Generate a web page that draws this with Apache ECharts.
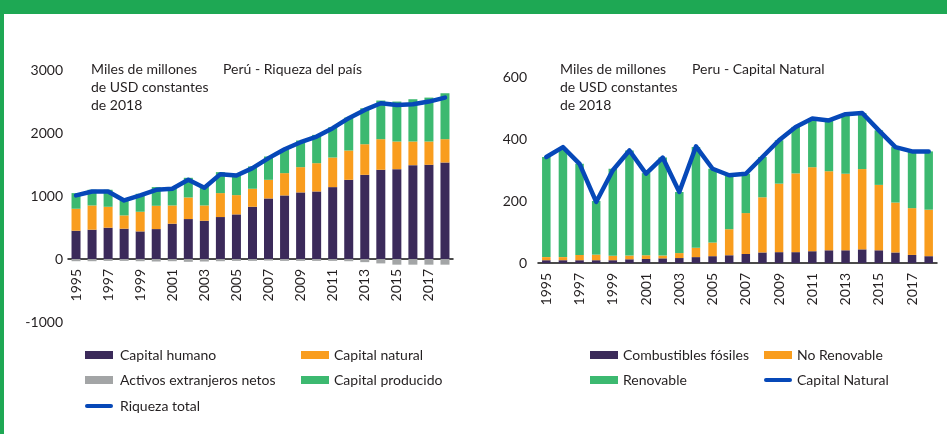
<!DOCTYPE html>
<html>
<head>
<meta charset="utf-8">
<script src="https://cdn.jsdelivr.net/npm/echarts@6/dist/echarts.min.js"></script>
<style>
  html, body { margin: 0; padding: 0; background: #fff; }
  #chart { position: absolute; left: 0; top: 0; width: 947px; height: 434px; }
  .bar-top { position: absolute; left: 0; top: 0; width: 947px; height: 14px; background: #1ea854; }
  .bar-left { position: absolute; left: 0; top: 0; width: 4px; height: 434px; background: #1ea854; }
</style>
</head>
<body>
<div id="chart"></div>
<div class="bar-top"></div>
<div class="bar-left"></div>
<script>
// años
var years = ['1995','1996','1997','1998','1999','2000','2001','2002','2003','2004','2005','2006',
             '2007','2008','2009','2010','2011','2012','2013','2014','2015','2016','2017','2018'];

// Perú - Riqueza del país (miles de millones USD 2018)
var capitalHumano = [449,465,497,481,438,475,560,634,607,666,708,829,961,1009,1057,1072,1141,1257,1336,1416,1426,1490,1495,1532];
var capitalNatural = [349,385,332,211,312,370,290,343,243,380,306,286,296,354,401,449,470,465,486,486,439,375,370,370];
var capitalProducido = [248,249,270,238,285,296,291,312,312,333,322,354,370,370,423,449,481,523,571,613,634,671,697,729];
var activosExtranjeros = [-35,-35,-30,-30,-35,-40,-35,-45,-40,-35,-30,-30,-25,-30,-30,-30,-30,-35,-50,-70,-90,-90,-90,-90];
var riquezaTotal = [1009,1072,1072,930,1009,1099,1115,1257,1130,1347,1326,1442,1601,1743,1854,1944,2076,2235,2367,2472,2446,2456,2499,2562];

// Peru - Capital Natural
var combustibles = [9,9,9,9,9,12,13,15,16,19,22,25,29,34,35,35,38,41,41,44,41,34,26,22];
var noRenovable = [10,10,17,18,14,12,12,9,16,30,44,84,132,178,221,254,271,255,247,259,211,161,151,150];
var renovable = [323,350,294,173,281,339,265,316,197,325,238,177,127,130,140,150,157,164,192,181,176,179,183,188];
var capitalNaturalTotal = [342,374,320,197,299,363,288,340,229,376,304,283,288,342,396,439,466,460,480,484,428,374,360,360];

// ticks
var yTicksLeft = [-1000, 0, 1000, 2000, 3000];
var yTicksRight = [0, 200, 400, 600];

var FONT = 'Lato, "Open Sans", sans-serif';
var TXT = '#231f20';
var PURPLE = '#3b2a5a';
var ORANGE = '#f99d1e';
var GREEN = '#3cb970';
var GRAY = '#a3a5a6';
var BLUE = '#0648b8';

var chart = echarts.init(document.getElementById('chart'), null, { renderer: 'canvas' });

function lineIcon() {
    return 'path://M2,0 L26,0 A2,2 0 0 1 26,4 L2,4 A2,2 0 0 1 2,0 Z';
}

function legendAt(name, left, top, isLine, gap) {
    return {
        data: [name],
        left: left,
        top: top,
        padding: 0,
        itemWidth: 28,
        itemHeight: isLine ? 5 : 8,
        itemGap: 0,
        icon: isLine ? lineIcon() : 'rect',
        selectedMode: false,
        textStyle: { fontFamily: FONT, fontSize: 14, color: TXT, padding: [0, 0, 0, gap || 0] }
    };
}

function titleAt(text, left) {
    return {
        text: text, left: left, top: 60, padding: 0,
        textStyle: { fontFamily: FONT, fontSize: 14, fontWeight: 'normal', color: TXT, lineHeight: 18 }
    };
}

function xAxisFor(gridIndex, showLine, showLabel) {
    return {
        type: 'category',
        gridIndex: gridIndex,
        data: years,
        axisLine: { show: showLine, onZero: true, lineStyle: { color: '#111', width: 1.5 } },
        axisTick: { show: false },
        axisLabel: {
            show: showLabel,
            interval: 1,
            rotate: 90,
            margin: 10,
            fontFamily: FONT,
            fontSize: 14,
            color: TXT
        }
    };
}

function plain(v) { return String(v); }

var option = {
    animation: false,
    title: [
        titleAt('Miles de millones\nde USD constantes\nde 2018', 91),
        titleAt('Perú - Riqueza del país', 223),
        titleAt('Miles de millones\nde USD constantes\nde 2018', 560),
        titleAt('Peru - Capital Natural', 692)
    ],
    legend: [
        legendAt('Capital humano', 85, 348, false, 2),
        legendAt('Capital natural', 301, 348, false, 0),
        legendAt('Activos extranjeros netos', 85, 373, false, 2),
        legendAt('Capital producido', 301, 373, false, 0),
        legendAt('Riqueza total', 85, 399, true, 2),
        legendAt('Combustibles fósiles', 590, 348),
        legendAt('No Renovable', 764, 348),
        legendAt('Renovable', 590, 373),
        legendAt('Capital Natural', 764, 373, true)
    ],
    grid: [
        { left: 68, right: 494, top: 70, bottom: 112 },
        { left: 538, right: 10, top: 77, bottom: 171 },
        // solo para las etiquetas de años del grafico izquierdo (termina en cero)
        { left: 68, right: 494, top: 70, bottom: 175 }
    ],
    xAxis: [xAxisFor(0, true, false), xAxisFor(1, true, true), xAxisFor(2, false, true)],
    yAxis: [
        {
            type: 'value', gridIndex: 0,
            min: yTicksLeft[0], max: yTicksLeft[yTicksLeft.length - 1], interval: 1000,
            axisLine: { show: false }, axisTick: { show: false }, splitLine: { show: false },
            axisLabel: { margin: 5, fontFamily: FONT, fontSize: 14, color: TXT, formatter: plain }
        },
        {
            type: 'value', gridIndex: 1,
            min: yTicksRight[0], max: yTicksRight[yTicksRight.length - 1], interval: 200,
            axisLine: { show: false }, axisTick: { show: false }, splitLine: { show: false },
            axisLabel: { margin: 11, fontFamily: FONT, fontSize: 14, color: TXT, formatter: plain }
        },
        {
            type: 'value', gridIndex: 2, show: false, min: 0, max: 1
        }
    ],
    series: [
        // grafico izquierdo
        { name: 'Capital humano', type: 'bar', stack: 'w', xAxisIndex: 0, yAxisIndex: 0,
          barWidth: 9, itemStyle: { color: PURPLE }, data: capitalHumano },
        { name: 'Capital natural', type: 'bar', stack: 'w', xAxisIndex: 0, yAxisIndex: 0,
          barWidth: 9, itemStyle: { color: ORANGE }, data: capitalNatural },
        { name: 'Capital producido', type: 'bar', stack: 'w', xAxisIndex: 0, yAxisIndex: 0,
          barWidth: 9, itemStyle: { color: GREEN }, data: capitalProducido },
        { name: 'Activos extranjeros netos', type: 'bar', stack: 'w', xAxisIndex: 0, yAxisIndex: 0,
          barWidth: 9, itemStyle: { color: GRAY }, data: activosExtranjeros },
        { name: 'Riqueza total', type: 'line', xAxisIndex: 0, yAxisIndex: 0,
          showSymbol: false, symbol: 'none', z: 5,
          lineStyle: { color: BLUE, width: 4.5, cap: 'round', join: 'round' },
          itemStyle: { color: BLUE }, data: riquezaTotal },
        // grafico derecho
        { name: 'Combustibles fósiles', type: 'bar', stack: 'n', xAxisIndex: 1, yAxisIndex: 1,
          barWidth: 8.5, itemStyle: { color: PURPLE }, data: combustibles },
        { name: 'No Renovable', type: 'bar', stack: 'n', xAxisIndex: 1, yAxisIndex: 1,
          barWidth: 8.5, itemStyle: { color: ORANGE }, data: noRenovable },
        { name: 'Renovable', type: 'bar', stack: 'n', xAxisIndex: 1, yAxisIndex: 1,
          barWidth: 8.5, itemStyle: { color: GREEN }, data: renovable },
        { name: 'Capital Natural', type: 'line', xAxisIndex: 1, yAxisIndex: 1,
          showSymbol: false, symbol: 'none', z: 5,
          lineStyle: { color: BLUE, width: 4.5, cap: 'round', join: 'round' },
          itemStyle: { color: BLUE }, data: capitalNaturalTotal }
    ]
};

chart.setOption(option);
</script>
</body>
</html>
